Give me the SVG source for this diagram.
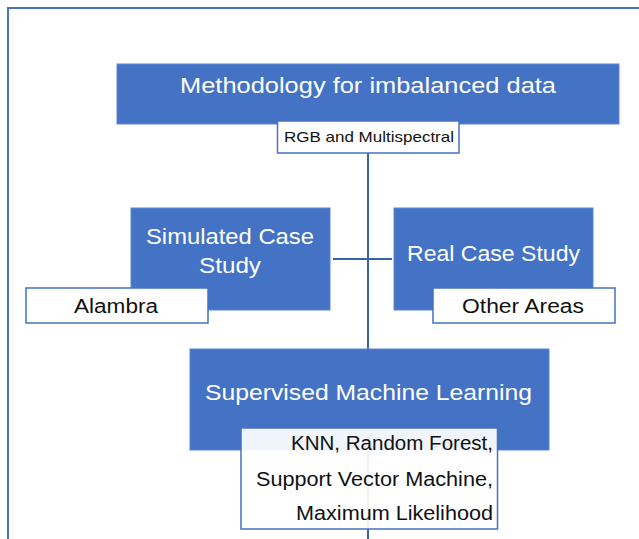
<svg xmlns="http://www.w3.org/2000/svg" width="639" height="539" viewBox="0 0 639 539">
<style>
.blue{fill:#4472C4;stroke:#5B86D0;stroke-width:1}
.lbl{fill:#ffffff;stroke:#4472C4;stroke-width:1.5}
.wt{fill:#ffffff;font-family:"Liberation Sans",Arial,sans-serif;text-anchor:middle}
.bt{fill:#111111;font-family:"Liberation Sans",Arial,sans-serif;text-anchor:middle}
.rt{fill:#111111;font-family:"Liberation Sans",Arial,sans-serif;text-anchor:end}
.con{stroke:#3A62A8;stroke-width:2;fill:none}
</style>
<rect width="639" height="539" fill="#ffffff"/>
<path d="M8 539 V8 H639" fill="none" stroke="#4472C4" stroke-width="2"/>
<g id="connectors">
<line class="con" x1="368" y1="153" x2="368" y2="539"/>
<line class="con" x1="333" y1="259" x2="392" y2="259"/>
</g>
<g id="methodology">
<rect class="blue" x="117" y="64" width="502" height="60"/>
<text class="wt" x="368" y="93" font-size="22.5" textLength="376" lengthAdjust="spacingAndGlyphs">Methodology for imbalanced data</text>
</g>
<g id="rgb">
<rect class="lbl" x="277.5" y="121" width="181.5" height="32"/>
<text class="bt" x="369" y="142" font-size="15" textLength="170" lengthAdjust="spacingAndGlyphs">RGB and Multispectral</text>
</g>
<g id="simulated">
<rect class="blue" x="131" y="208" width="199" height="102"/>
<text class="wt" x="230" y="244" font-size="22.5" textLength="168" lengthAdjust="spacingAndGlyphs">Simulated Case</text>
<text class="wt" x="230" y="273" font-size="22.5" textLength="62" lengthAdjust="spacingAndGlyphs">Study</text>
</g>
<g id="alambra">
<rect class="lbl" x="26" y="288" width="182" height="35"/>
<text class="bt" x="116" y="313" font-size="20" textLength="84" lengthAdjust="spacingAndGlyphs">Alambra</text>
</g>
<g id="real">
<rect class="blue" x="394" y="208" width="199" height="102"/>
<text class="wt" x="493.5" y="261" font-size="22.5" textLength="173" lengthAdjust="spacingAndGlyphs">Real Case Study</text>
</g>
<g id="other">
<rect class="lbl" x="433" y="288" width="182" height="35"/>
<text class="bt" x="523" y="313" font-size="20" textLength="122" lengthAdjust="spacingAndGlyphs">Other Areas</text>
</g>
<g id="supervised">
<rect class="blue" x="190" y="349" width="359" height="101"/>
<text class="wt" x="368.5" y="400" font-size="22.5" textLength="327" lengthAdjust="spacingAndGlyphs">Supervised Machine Learning</text>
</g>
<g id="algorithms">
<rect class="lbl" x="241" y="428" width="256.5" height="101" fill-opacity="0.92"/>
<text class="rt" x="493" y="450" font-size="20" textLength="202" lengthAdjust="spacingAndGlyphs">KNN, Random Forest,</text>
<text class="rt" x="493" y="486" font-size="20" textLength="237" lengthAdjust="spacingAndGlyphs">Support Vector Machine,</text>
<text class="rt" x="493" y="520" font-size="20" textLength="197" lengthAdjust="spacingAndGlyphs">Maximum Likelihood</text>
</g>
</svg>
